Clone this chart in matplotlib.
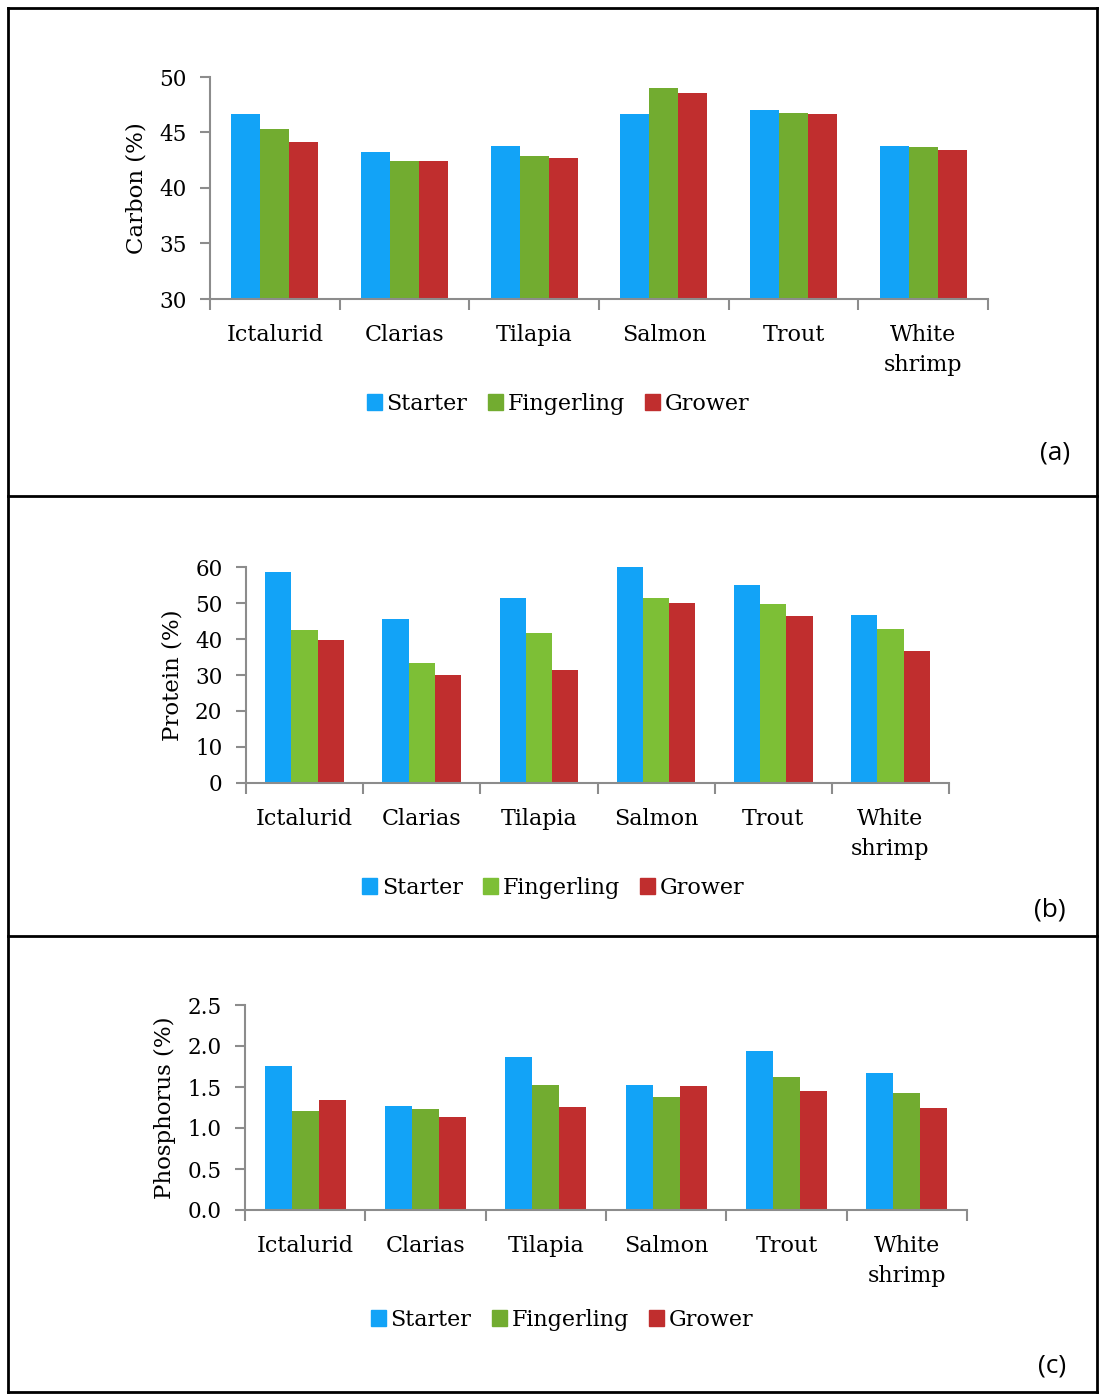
import numpy as np
import matplotlib.pyplot as plt
from matplotlib.lines import Line2D
from matplotlib.patches import Patch

species = ["Ictalurid", "Clarias", "Tilapia", "Salmon", "Trout", "White\nshrimp"]
stages = ["Starter", "Fingerling", "Grower"]

carbon_starter = [46.7, 43.2, 43.8, 46.7, 47.0, 43.8]
carbon_fingerling = [45.3, 42.4, 42.9, 49.0, 46.8, 43.7]
carbon_grower = [44.1, 42.4, 42.7, 48.6, 46.7, 43.4]

protein_starter = [58.5, 45.6, 51.3, 60.0, 55.0, 46.7]
protein_fingerling = [42.5, 33.3, 41.8, 51.3, 49.7, 42.8]
protein_grower = [39.6, 30.1, 31.3, 49.9, 46.3, 36.7]

phos_starter = [1.76, 1.27, 1.87, 1.53, 1.94, 1.67]
phos_fingerling = [1.21, 1.23, 1.53, 1.38, 1.62, 1.43]
phos_grower = [1.34, 1.13, 1.26, 1.51, 1.45, 1.24]

W, H = 1099, 1394
fig = plt.figure(figsize=(W / 100, H / 100), dpi=100)

serif = ["DejaVu Serif"]
blue = "#12a3f7"
red = "#c02e2e"
spine_col = "#8c8c8c"


def rect(l, r, top, bottom):
    return [l / W, 1 - bottom / H, (r - l) / W, (bottom - top) / H]


def panel(box, series, greens, ylim, yticks, ytl, ylabel, leg_y, leg_x, tag, tag_xy):
    ax = fig.add_axes(rect(*box))
    x = np.arange(len(species))
    w = 0.224
    cols = [blue, greens, red]
    for k, vals in enumerate(series):
        ax.bar(x + (k - 1) * w, np.array(vals) - ylim[0], w, bottom=ylim[0],
               color=cols[k], linewidth=0, zorder=2)
    ax.set_xlim(-0.5, len(species) - 0.5)
    ax.set_ylim(*ylim)
    ax.set_yticks(yticks)
    ax.set_yticklabels(ytl, fontsize=15.5, family=serif)
    ax.set_xticks(x)
    ax.set_xticklabels(species, fontsize=16, family=serif, linespacing=1.45)
    ax.set_xticks(np.arange(-0.5, len(species)), minor=True)
    ax.tick_params(axis="x", which="major", length=0, pad=18)
    ax.tick_params(axis="x", which="minor", length=8, color=spine_col, width=1.5)
    ax.tick_params(axis="y", length=7, color=spine_col, width=1.5, pad=10)
    for s in ["top", "right"]:
        ax.spines[s].set_visible(False)
    for s in ["left", "bottom"]:
        ax.spines[s].set_color(spine_col)
        ax.spines[s].set_linewidth(1.5)
    ax.set_ylabel(ylabel, fontsize=16.5, family=serif, labelpad=8)
    handles = [Patch(color=c) for c in cols]
    fig.legend(handles, stages, loc="center", bbox_to_anchor=(leg_x / W, 1 - leg_y / H),
               ncol=3, frameon=False, prop={"family": serif, "size": 16},
               handlelength=0.7, handleheight=0.7, handletextpad=0.2, columnspacing=0.9)
    fig.text(tag_xy[0] / W, 1 - tag_xy[1] / H, tag, fontsize=19, family=["Open Sans"],
             ha="center", va="center")
    return ax


panel((210, 988, 77, 299), [carbon_starter, carbon_fingerling, carbon_grower],
      "#72ac30", (30, 50), [30, 35, 40, 45, 50], ["30", "35", "40", "45", "50"],
      "Carbon (%)", 404, 558, "(a)", (1055, 453))

panel((246, 949, 567, 783), [protein_starter, protein_fingerling, protein_grower],
      "#7dbf36", (0, 60), np.arange(0, 61, 10), [str(v) for v in range(0, 61, 10)],
      "Protein (%)", 888, 553, "(b)", (1050, 910))

panel((245, 967, 1005, 1210), [phos_starter, phos_fingerling, phos_grower],
      "#72ac30", (0, 2.5), np.arange(0, 2.51, 0.5), ["0.0", "0.5", "1.0", "1.5", "2.0", "2.5"],
      "Phosphorus (%)", 1320, 562, "(c)", (1052, 1366))

# outer frame and dividers between panels
def hline(y, x0=8, x1=1097):
    fig.add_artist(Line2D([x0 / W, x1 / W], [1 - y / H, 1 - y / H], color="black", lw=2))


def vline(x, y0=8, y1=1392):
    fig.add_artist(Line2D([x / W, x / W], [1 - y0 / H, 1 - y1 / H], color="black", lw=2))


for y in [8, 496, 936, 1392]:
    hline(y)
for x in [8, 1097]:
    vline(x)

fig.savefig("out.png", dpi=100)
